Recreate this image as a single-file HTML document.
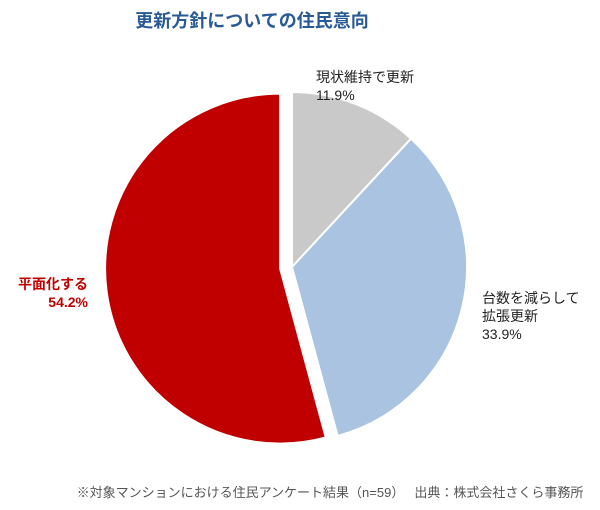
<!DOCTYPE html>
<html><head><meta charset="utf-8"><style>
body{margin:0;background:#fff;width:600px;height:510px;overflow:hidden}
svg{display:block;font-family:"Liberation Sans","Noto Sans CJK JP",sans-serif}
</style></head><body>
<svg width="600" height="510">
<text x="252" y="27" text-anchor="middle" font-size="18" font-weight="bold" fill="#2a5a95">更新方針についての住民意向</text>
<g id="slices"></g>
<text x="316" y="82" font-size="14" fill="#222">現状維持で更新</text>
<text x="316" y="100" font-size="14" fill="#222">11.9%</text>
<text x="482" y="303" font-size="14" fill="#222">台数を減らして</text>
<text x="482" y="321" font-size="14" fill="#222">拡張更新</text>
<text x="482" y="339" font-size="14" fill="#222">33.9%</text>
<text x="88" y="289" text-anchor="end" font-size="14" font-weight="bold" fill="#c00000">平面化する</text>
<text x="88" y="307" text-anchor="end" font-size="14" font-weight="bold" fill="#c00000">54.2%</text>
<text x="330" y="497" text-anchor="middle" font-size="13" fill="#555">※対象マンションにおける住民アンケート結果（n=59）　 出典：株式会社さくら事務所</text>
</svg>
<script>
const categories=["現状維持で更新","台数を減らして拡張更新","平面化する"];
const values=[11.9,33.9,54.2];
const colors=["#c9c9c9","#a9c3e0","#c00000"];
const explode=[0,0,12];
const cx=292,cy=267,r=175;
const g=document.getElementById('slices');
const total=values.reduce((a,b)=>a+b,0);
let acc=0;
values.forEach((v,i)=>{
  const a0=acc/total*2*Math.PI; acc+=v; const a1=acc/total*2*Math.PI;
  const mid=(a0+a1)/2;
  const ox=cx+explode[i]*Math.sin(mid), oy=cy-explode[i]*Math.cos(mid);
  const x0=ox+r*Math.sin(a0),y0=oy-r*Math.cos(a0),x1=ox+r*Math.sin(a1),y1=oy-r*Math.cos(a1);
  const large=(a1-a0)>Math.PI?1:0;
  const p=document.createElementNS('http://www.w3.org/2000/svg','path');
  p.setAttribute('d',`M${ox},${oy}L${x0},${y0}A${r},${r} 0 ${large} 1 ${x1},${y1}Z`);
  p.setAttribute('fill',colors[i]);
  p.setAttribute('stroke','#fff');
  p.setAttribute('stroke-width','2');
  
  
  g.appendChild(p);
});
</script>
</body></html>
